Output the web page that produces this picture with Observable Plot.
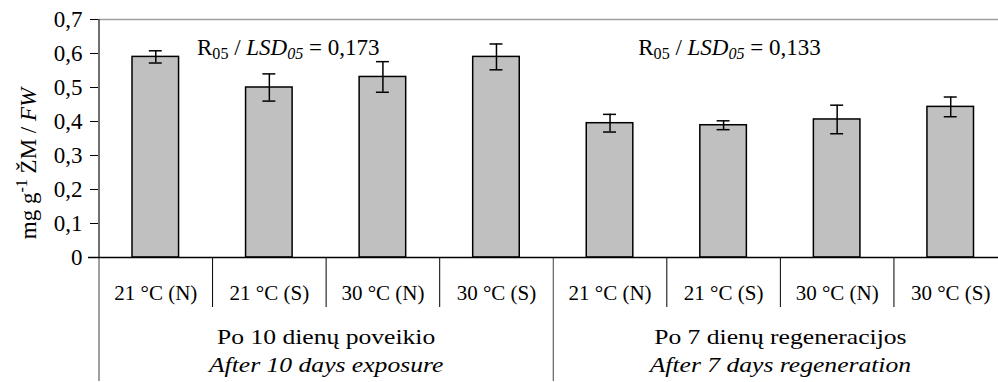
<!DOCTYPE html>
<html><head><meta charset="utf-8">
<script src="https://cdn.jsdelivr.net/npm/d3@7"></script>
<script src="https://cdn.jsdelivr.net/npm/@observablehq/plot@0.6"></script>
<style>
html,body{margin:0;padding:0;background:#fff;}
svg, svg text, svg tspan { font-family: "Times New Roman", "Liberation Serif", Times, serif !important; }
</style>
</head><body>
<div id="chart"></div>
<script>
const categories = ["21 °C (N)","21 °C (S)","30 °C (N)","30 °C (S)","21 °C (N)","21 °C (S)","30 °C (N)","30 °C (S)"];
const values = [0.590, 0.500, 0.531, 0.590, 0.395, 0.389, 0.406, 0.443];
const errors = [0.018, 0.040, 0.045, 0.038, 0.026, 0.013, 0.042, 0.029];
const groupsLt = ["Po 10 dienų poveikio", "Po 7 dienų regeneracijos"];
const groupsEn = ["After 10 days exposure", "After 7 days regeneration"];
const lsdValues = ["0,173", "0,133"];
const yTicks = [0, 0.1, 0.2, 0.3, 0.4, 0.5, 0.6, 0.7];
const perGroup = 4;

const data = categories.map((c, i) => ({i, pos: i + 0.5, cat: c, value: values[i], err: errors[i]}));
const groups = groupsLt.map((g, k) => ({k, lt: g, en: groupsEn[k], start: k * perGroup, center: k * perGroup + perGroup / 2, lsd: lsdValues[k]}));
const inner = data.filter(d => d.i % perGroup !== 0).map(d => d.i);
const outer = d3.range(0, categories.length + 1, perGroup);

const font = "'Times New Roman', 'Liberation Serif', Times, serif";
const fs = 21;
const fsBig = 23;
const barHalf = 0.205;
const capHalf = 0.057;

const chart = Plot.plot({
  width: 998,
  height: 382,
  marginLeft: 98,
  marginRight: 0,
  marginTop: 19,
  marginBottom: 125,
  style: {fontFamily: font, fontSize: fs + "px", background: "#fff", color: "#000"},
  x: {type: "linear", domain: [0, categories.length], range: [98.5, 1007], axis: null},
  y: {domain: [0, 0.7], axis: null},
  marks: [
    Plot.ruleY([0.7], {stroke: "#a0a0a0", strokeWidth: 1.5}),
    Plot.rectY(data, {x1: d => d.pos - barHalf, x2: d => d.pos + barHalf, y1: 0, y2: "value", fill: "#c0c0c0", stroke: "#000", strokeWidth: 1.5}),
    Plot.ruleX(data, {x: "pos", y1: d => d.value - d.err, y2: d => d.value + d.err, stroke: "#000", strokeWidth: 1.5}),
    Plot.ruleY(data, {y: d => d.value + d.err, x1: d => d.pos - capHalf, x2: d => d.pos + capHalf, stroke: "#000", strokeWidth: 1.5}),
    Plot.ruleY(data, {y: d => d.value - d.err, x1: d => d.pos - capHalf, x2: d => d.pos + capHalf, stroke: "#000", strokeWidth: 1.5}),
    Plot.axisY({ticks: yTicks, label: null, tickSize: 8, tickPadding: 8, tickFormat: d => d === 0 ? "0" : d.toFixed(1).replace(".", ","), fontSize: fsBig, fontFamily: font, stroke: "#000"}),
    // axis lines
    Plot.ruleX(outer.slice(0, 1), {y1: 0, y2: 0, insetBottom: -124, stroke: "#808080", strokeWidth: 1.5}),
    Plot.ruleX([0], {y1: 0, y2: 0.7, stroke: "#404040", strokeWidth: 1.5}),
    Plot.ruleX(outer.slice(1), {y1: 0, y2: 0, insetBottom: -124, stroke: "#404040", strokeWidth: 1}),
    Plot.ruleX(inner, {y1: 0, y2: 0, insetBottom: -50, stroke: "#000", strokeWidth: 1}),
    Plot.ruleY([0], {insetLeft: -10, stroke: "#000", strokeWidth: 1.5}),
    // category labels
    Plot.text(data, {x: "pos", y: 0, text: "cat", dy: 36, fontSize: fs, fontFamily: font}),
    Plot.text(groups, {x: "center", y: 0, text: "lt", dy: 80, fontSize: fs, fontFamily: font, className: "grp"}),
    Plot.text(groups, {x: "center", y: 0, text: "en", dy: 108, fontSize: fs, fontFamily: font, fontStyle: "italic", className: "grp"}),
    // LSD annotations
    Plot.text(groups, {x: "start", y: 0.7, text: d => "R05 / LSD05 = " + d.lsd, textAnchor: "start", dy: 28, fontSize: fsBig, fontFamily: font, className: "lsd"}),
    // y label
    Plot.text(["mg g-1 ŽM / FW"], {frameAnchor: "left", textAnchor: "middle", rotate: -90, dx: -70, dy: 25, fontSize: fsBig, fontFamily: font, className: "ylab"})
  ]
});
document.getElementById("chart").appendChild(chart);

// wide group labels
d3.select(chart).selectAll("g.grp text").each(function() {
  const t = d3.select(this);
  t.attr("transform", (t.attr("transform") || "") + " scale(1.22,1)");
});
// rich text: subscripts / superscripts / italics
const lsdOffsets = [98, 85];
d3.select(chart).selectAll("g.lsd text").each(function(_, k) {
  const t = d3.select(this);
  const txt = t.text();
  const val = txt.split("= ")[1];
  t.text(null);
  t.attr("transform", (t.attr("transform") || "") + ` translate(${lsdOffsets[k]},0)`);
  t.append("tspan").text("R");
  t.append("tspan").attr("font-size", "0.7em").attr("dy", "0.25em").text("05");
  t.append("tspan").attr("dy", "-0.175em").text(" / ");
  t.append("tspan").attr("font-style", "italic").text("LSD");
  t.append("tspan").attr("font-style", "italic").attr("font-size", "0.7em").attr("dy", "0.25em").text("05");
  t.append("tspan").attr("dy", "-0.175em").text(" = " + val);
});
d3.select(chart).selectAll("g.ylab text").each(function() {
  const t = d3.select(this);
  t.text(null);
  t.append("tspan").text("mg g");
  t.append("tspan").attr("font-size", "0.7em").attr("dy", "-0.55em").text("-1");
  t.append("tspan").attr("dy", "0.385em").text(" ŽM / ");
  t.append("tspan").attr("font-style", "italic").text("FW");
});
</script>
</body></html>
